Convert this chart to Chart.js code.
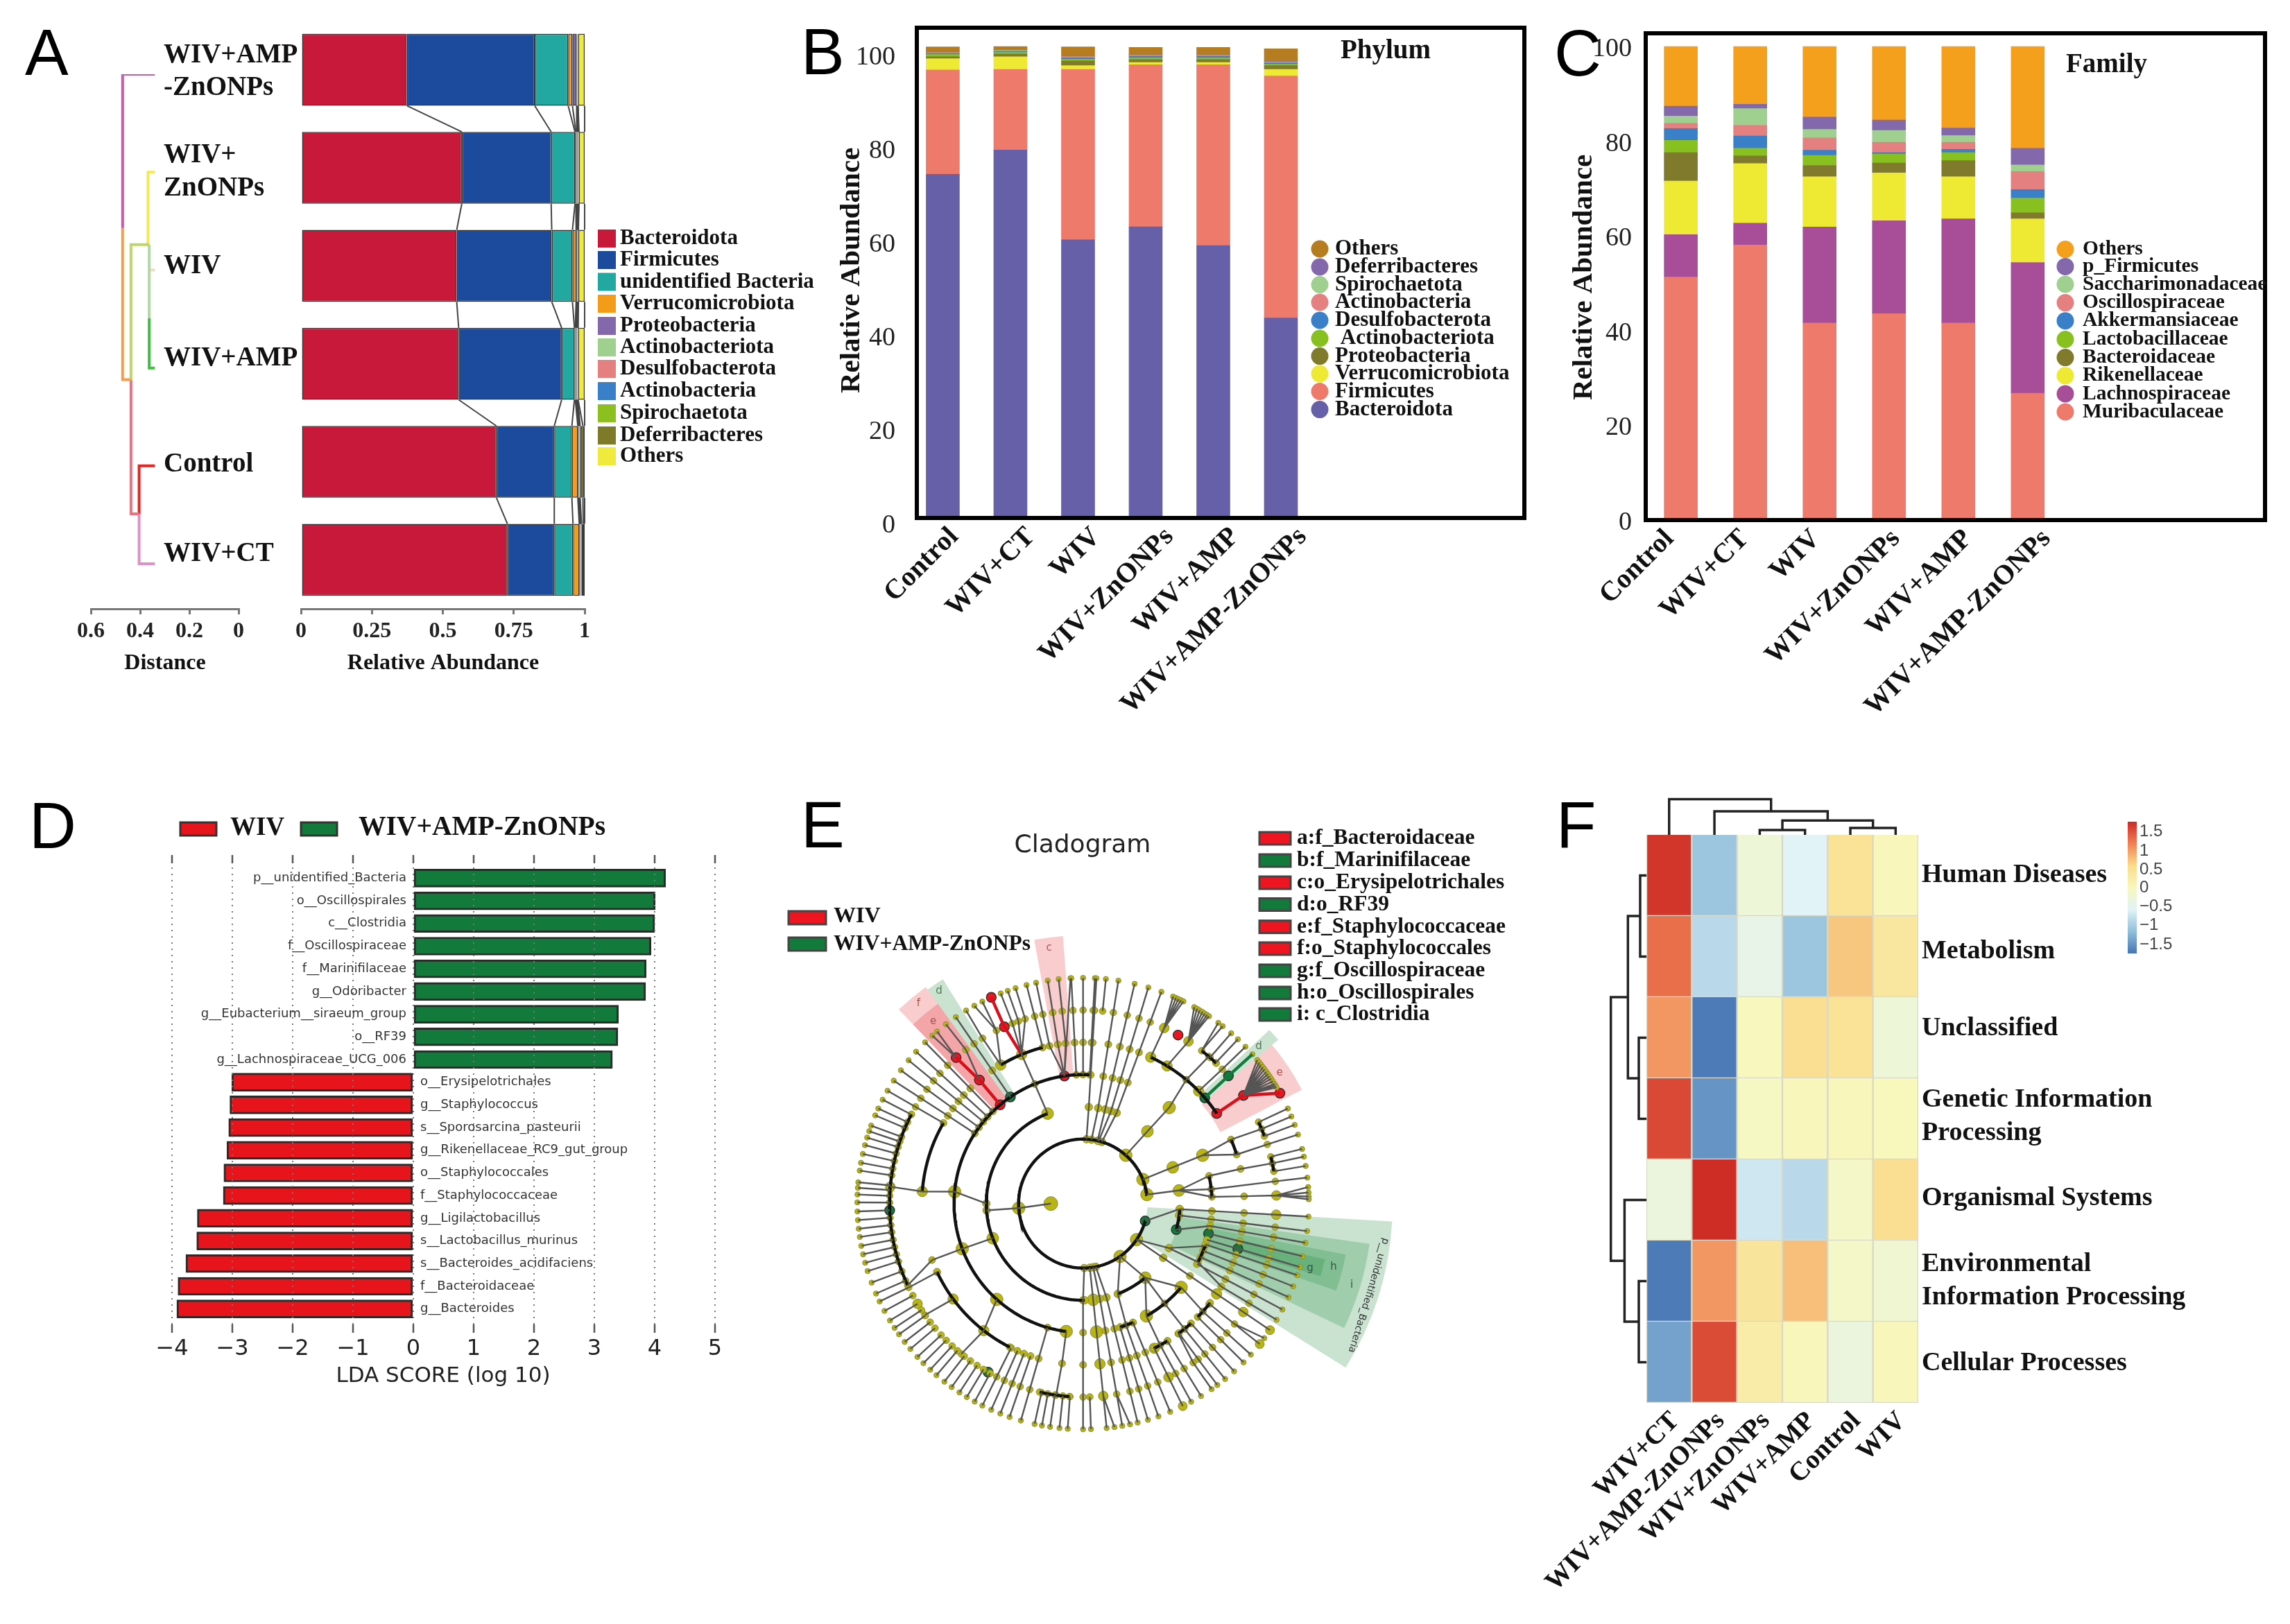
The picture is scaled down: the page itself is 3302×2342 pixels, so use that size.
<!DOCTYPE html>
<html>
<head>
<meta charset="utf-8">
<title>Gut microbiota panels</title>
<script src="https://cdn.jsdelivr.net/npm/chart.js@4/dist/chart.umd.js"></script>
<style>
  body { margin: 0; background: #fff; width: 3302px; height: 2342px; position: relative; overflow: hidden; }
  canvas { position: absolute; left: 0; top: 0; }
</style>
</head>
<body>
<script>
// ---- panel A: relative abundance by clustered group
const clusterRows = ['WIV+AMP-ZnONPs', 'WIV+ZnONPs', 'WIV', 'WIV+AMP', 'Control', 'WIV+CT'];
const phylaA = ['Bacteroidota', 'Firmicutes', 'unidentified Bacteria', 'Verrucomicrobiota', 'Proteobacteria', 'Actinobacteriota', 'Desulfobacterota', 'Actinobacteria', 'Spirochaetota', 'Deferribacteres', 'Others'];
const phylaAColors = ['#c8193a', '#1c4a9c', '#22a8a0', '#f39c1a', '#8468ac', '#a0d090', '#e58080', '#3a80c8', '#8cc020', '#7f7a2a', '#f0ea3c'];
const abundanceA = [
  [0.373, 0.567, 0.549, 0.556, 0.689, 0.728],
  [0.451, 0.315, 0.335, 0.363, 0.204, 0.165],
  [0.118, 0.084, 0.073, 0.045, 0.062, 0.066],
  [0.015, 0.003, 0.013, 0.003, 0.021, 0.022],
  [0.015, 0.003, 0.003, 0.003, 0.002, 0.002],
  [0.001, 0.002, 0.001, 0.002, 0.001, 0.001],
  [0.001, 0.003, 0.001, 0.002, 0.002, 0.002],
  [0.001, 0.001, 0.001, 0.001, 0.001, 0.001],
  [0.001, 0.001, 0.001, 0.001, 0.002, 0.002],
  [0.001, 0.001, 0.001, 0.001, 0.010, 0.006],
  [0.023, 0.020, 0.022, 0.023, 0.006, 0.005],
];
const abundanceATicks = [0, 0.25, 0.5, 0.75, 1];
const distanceTicks = [0.6, 0.4, 0.2, 0];
// dendrogram branches as [distance, row] paths with their colours
const distanceBranches = [
  ['#c85ab0', [[0.34, 0], [0.471, 0], [0.471, 1.57]]],
  ['#f0a050', [[0.471, 1.57], [0.471, 3.12], [0.437, 3.12]]],
  ['#bcd86a', [[0.437, 3.12], [0.437, 1.74], [0.363, 1.74]]],
  ['#f07080', [[0.437, 3.12], [0.437, 4.49], [0.404, 4.49]]],
  ['#f8e850', [[0.34, 1], [0.368, 1], [0.368, 1.74]]],
  ['#b0d8a0', [[0.363, 1.74], [0.363, 2.49]]],
  ['#40c040', [[0.363, 2.49], [0.363, 3], [0.34, 3]]],
  ['#f8d8c0', [[0.34, 2], [0.363, 2]]],
  ['#f02020', [[0.34, 4], [0.404, 4], [0.404, 4.49]]],
  ['#e090c8', [[0.404, 4.49], [0.404, 5], [0.34, 5]]],
];

// ---- panels B and C: stacked percentages
const groups = ['Control', 'WIV+CT', 'WIV', 'WIV+ZnONPs', 'WIV+AMP', 'WIV+AMP-ZnONPs'];
const percentTicks = [0, 20, 40, 60, 80, 100];
const phylaB = ['Bacteroidota', 'Firmicutes', 'Verrucomicrobiota', 'Proteobacteria', ' Actinobacteriota', 'Desulfobacterota', 'Actinobacteria', 'Spirochaetota', 'Deferribacteres', 'Others'];
const phylaBColors = ['#6660a8', '#ee7a6c', '#eeea34', '#807a2c', '#88c020', '#3a80c8', '#e58080', '#a0d090', '#8468ac', '#b57c20'];
const abundanceB = [
  [73.4, 78.6, 59.4, 62.2, 58.2, 42.7],
  [22.3, 17.2, 36.4, 34.6, 38.6, 51.7],
  [2.4, 2.7, 0.8, 0.5, 0.5, 1.4],
  [0.4, 0.6, 1.0, 0.6, 0.6, 0.8],
  [0.5, 0.4, 0.4, 0.4, 0.4, 0.3],
  [0.2, 0.2, 0.3, 0.3, 0.3, 0.3],
  [0.1, 0.1, 0.1, 0.1, 0.1, 0.1],
  [0.1, 0.1, 0.1, 0.1, 0.1, 0.1],
  [0.1, 0.1, 0.1, 0.1, 0.1, 0.1],
  [1.1, 0.7, 2.0, 1.6, 1.6, 2.7],
];
const familiesC = ['Muribaculaceae', 'Lachnospiraceae', 'Rikenellaceae', 'Bacteroidaceae', 'Lactobacillaceae', 'Akkermansiaceae', 'Oscillospiraceae', 'Saccharimonadaceae', 'p_Firmicutes', 'Others'];
const familiesCColors = ['#ee7a6c', '#a84e98', '#eeea34', '#807a2c', '#88c020', '#3a80c8', '#e58080', '#a0d090', '#8468ac', '#f5a01c'];
const abundanceC = [
  [51.3, 58.1, 41.6, 43.6, 41.6, 26.8],
  [9.0, 4.6, 20.3, 19.6, 22.0, 27.6],
  [11.3, 12.6, 10.6, 10.1, 8.9, 9.2],
  [6.0, 1.6, 2.4, 2.1, 3.4, 1.3],
  [2.6, 1.6, 2.1, 1.9, 1.7, 3.1],
  [2.5, 2.6, 1.1, 0.3, 0.7, 1.8],
  [1.1, 2.3, 2.6, 2.2, 1.5, 3.8],
  [1.5, 3.5, 1.8, 2.5, 1.4, 1.4],
  [2.1, 0.9, 2.6, 2.2, 1.6, 3.5],
  [12.6, 12.2, 14.9, 15.5, 17.2, 21.5],
];

// ---- panel D: LDA scores, top to bottom
const ldaTaxaGreen = ['p__unidentified_Bacteria', 'o__Oscillospirales', 'c__Clostridia', 'f__Oscillospiraceae', 'f__Marinifilaceae', 'g__Odoribacter', 'g__Eubacterium__siraeum_group', 'o__RF39', 'g__Lachnospiraceae_UCG_006'];
const ldaScoresGreen = [4.18, 4.01, 4.0, 3.94, 3.86, 3.85, 3.40, 3.39, 3.30];
const ldaTaxaRed = ['o__Erysipelotrichales', 'g__Staphylococcus', 's__Sporosarcina_pasteurii', 'g__Rikenellaceae_RC9_gut_group', 'o__Staphylococcales', 'f__Staphylococcaceae', 'g__Ligilactobacillus', 's__Lactobacillus_murinus', 's__Bacteroides_acidifaciens', 'f__Bacteroidaceae', 'g__Bacteroides'];
const ldaScoresRed = [-3.01, -3.04, -3.06, -3.09, -3.14, -3.15, -3.58, -3.59, -3.77, -3.90, -3.92];
const ldaTicks = [-4, -3, -2, -1, 0, 1, 2, 3, 4, 5];

// ---- panel E: cladogram, angle in degrees counter-clockwise from east, radius in levels
const cladeKey = ['a:f_Bacteroidaceae', 'b:f_Marinifilaceae', 'c:o_Erysipelotrichales', 'd:o_RF39', 'e:f_Staphylococcaceae', 'f:o_Staphylococcales', 'g:f_Oscillospiraceae', 'h:o_Oscillospirales', 'i: c_Clostridia'];
const cladeKeyIsRed = [true, false, true, false, true, true, false, false, false];
const cladeTipsFrom6 = [9.6, 12, 14, 6.6, 17.8, 20.4, 22.7, 24.9, 44, 46.7, 49, 107.4, 109.5, 111.4,
  152.6, 155.1, 157, 159.8, 161.3, 163, 165, 167.3, 169.6, 171.6, 174.6, 176, 177.7, 179.7, 182, 184.2, 186.4, 188.5, 190.8, 193, 195.2, 197.4,
  200.5, 203.5, 205.7, 208.4, 211.2, 213.4, 215.4, 217.8, 220.1, 222.8, 225, 227.4, 229.5, 232.1, 234.4, 236.8, 239, 241.3,
  257.6, 259.5, 261.6, 264, 266.1, 272, 304.7];
const cladeTipsFrom5 = [96.2, 99, 102, 104.5, 150, 243.5, 246, 248.5, 251, 296.2, 298.6, 301.5, 306.5, 309, 312, 315.3, 318, 321.5, 329];
const cladeTipsFrom4 = [87, 90, 93, 124.3, 134.4, 137.7, 140.6, 143.8, 147, 254, 286.7, 289.5, 292.7, 332, 335.5, 338.5, 341.5, 343.7, 346.5, 350];
const cladeTipsFrom3 = [69.7, 73.2, 76.8, 81, 86.6, 270, 276, 280, 284, 325.9, 353, 356.7];
// straight branches as [angle0, level0, angle1, level1]
const cladeLinks = [
  [180, 1, 184, 2], [184, 2, 184, 3], [201, 3, 200.5, 4], [200.5, 4, 200.5, 5], [200.5, 5, 205, 6],
  [180, 3, 174.7, 4], [174.7, 4, 175.7, 5], [175.7, 5, 175, 6],
  [111.5, 3, 112, 4], [112, 4, 112.4, 5], [112.4, 5, 111.4, 6], [112.4, 5, 109.5, 6], [112.4, 5, 107.4, 6],
  [120.7, 5, 121.3, 6], [121.3, 6, 121.2, 7], [120.7, 5, 116.6, 6], [116.6, 6, 116.5, 7], [116.6, 6, 118.8, 7],
  [131, 6, 130.3, 7], [131, 6, 131.9, 7], [130, 5, 127.3, 6], [127.3, 6, 127.4, 7],
  [98.3, 4, 93.2, 7], [98.3, 4, 96.2, 5], [98.3, 4, 99, 5], [98.3, 4, 102, 5], [84.2, 6, 84.2, 7],
  [228, 4, 232, 5], [232, 5, 231, 6], [216.3, 5, 215.2, 6], [205.2, 5, 205.7, 6],
  [262.5, 4, 262.5, 5], [262.5, 5, 262, 6],
  [271, 2, 270, 3], [276, 2, 276, 3], [279, 2, 280, 3], [281.4, 2, 284, 3], [276, 6, 278, 7], [280, 6, 282, 7],
  [305, 2, 310, 3], [305, 2, 291, 3], [291, 3, 289.5, 4], [310, 3, 309.2, 4], [310, 3, 319.5, 4], [310, 3, 299.4, 4],
  [299.4, 4, 298.6, 5], [309.2, 4, 309, 5], [306.2, 5, 304.7, 6], [319.5, 4, 318, 5], [321.5, 6, 323.4, 7],
  [326, 2, 325.9, 3], [326, 2, 332.6, 3], [332.6, 3, 333, 4], [333, 4, 329, 5], [332.6, 3, 340.8, 4],
  [344.3, 2, 356.7, 3], [344.4, 3, 350, 4],
  [8, 2, 7.8, 3], [7.8, 3, 6.4, 4], [6.4, 4, 6.6, 6], [7.8, 3, 12.4, 4], [12.4, 4, 12.4, 5], [12.4, 5, 12, 6],
  [3, 4, 2.6, 5], [2.6, 5, 2.4, 6], [7.8, 3, 3, 4], [2.4, 6, 4.2, 7], [2.4, 6, 2.8, 7], [2.4, 6, 1.8, 7], [2.4, 6, 1.1, 7],
  [22, 2, 22, 3], [22, 3, 22, 4], [22, 4, 23.4, 5], [22, 4, 17.7, 5], [23.4, 5, 22.7, 6], [17.7, 5, 17.8, 6],
  [48.5, 2, 48.3, 3], [48.3, 3, 48.1, 4], [48.1, 4, 50.2, 5],
  [65.2, 5, 65.2, 6], [58.6, 5, 57, 6], [50.2, 5, 49.5, 6], [52.2, 6, 53.2, 7], [52.2, 6, 51.8, 7], [44.2, 5, 44, 6],
  [65.2, 6, 66.5, 7], [65.2, 6, 65.7, 7], [65.2, 6, 65, 7], [65.2, 6, 64.3, 7], [65.2, 6, 63.6, 7],
  [57, 6, 60.5, 7], [57, 6, 59.7, 7], [57, 6, 58.9, 7], [57, 6, 58.1, 7], [57, 6, 57.4, 7], [57, 6, 56.7, 7], [57, 6, 56.1, 7],
  [34, 6, 39.5, 7], [34, 6, 38.7, 7], [34, 6, 38, 7], [34, 6, 37.2, 7], [34, 6, 36.5, 7], [34, 6, 35.7, 7], [34, 6, 35, 7],
  [34, 6, 34.3, 7], [34, 6, 33.6, 7], [34, 6, 32.8, 7], [34, 6, 32, 7], [34, 6, 31.5, 7], [34, 6, 31, 7],
  [73, 2, 69.7, 3], [76, 2, 73.2, 3], [77, 2, 76.8, 3], [82.5, 2, 81, 3], [87, 2, 86.6, 3],
];
const cladeRedLinks = [[112.4, 5, 114, 6], [114, 6, 114, 7], [130, 4, 130, 5], [130, 5, 131, 6], [34, 5, 34, 6], [34, 6, 29.3, 7]];
const cladeGreenLinks = [[41, 5, 41.3, 6], [41.3, 6, 41.4, 7]];
// thick arcs as [level, angle0, angle1]
const cladeArcs = [
  [2, 8, 344.3], [3, 111.5, 271], [4, 87, 262.5], [5, 104.5, 120.7], [5, 150, 175.7], [5, 205, 243], [6, 152.5, 205],
  [6, 257, 266], [3, 291, 310], [4, 286.6, 292.8], [4, 299.4, 319.5], [5, 296, 301.6], [5, 306.2, 312], [5, 315.3, 322],
  [4, 333, 340.8], [3, 344.4, 356.8], [4, 3, 12.4], [6, 9.6, 14], [5, 17.7, 23.4], [6, 20.4, 24.9], [5, 34, 65.2], [6, 46.5, 52.2],
];
const cladeBig = [[180, 1], [184, 2], [201, 3], [111.5, 3], [174.7, 4], [200.5, 4], [175.7, 5], [175, 6], [228, 4], [216.3, 5], [232, 5], [211.2, 6],
  [262.5, 4], [8, 2], [22, 2], [48.5, 2], [48.3, 3], [48.1, 4], [7.8, 3], [22, 3], [22, 4], [58.6, 5], [65.2, 5], [65.2, 6], [57, 6], [44.2, 5], [2.4, 6],
  [356.7, 6], [296.2, 5], [296.2, 6], [296.2, 7], [325.9, 5], [325.9, 6], [325.9, 7], [321.5, 7], [326, 2], [305, 2], [276, 3], [276, 4], [276, 5], [276, 6],
  [310, 3], [299.4, 4], [319.5, 4], [112.4, 5], [120.7, 5]];
const cladeRed = [[98.3, 4], [130, 4], [130, 5], [131, 6], [114, 6], [114, 7], [34, 5], [34, 6], [29.3, 7], [60.6, 6]];
const cladeGreen = [[124.3, 4], [41, 5], [41.3, 6], [344.3, 2], [344.4, 3], [346.5, 4], [343.7, 5], [182, 6], [240.6, 6]];
const cladeWedges = [
  [-32, -3.3, 2, 9.6, 'g'], [-25.5, -8, 3, 8.97, 'g'], [-19, -11, 4, 8.3, 'g'], [-17, -13, 5, 7.7, 'g'],
  [126, 133.5, 3.9, 8.3, 'r'], [126, 133.5, 4, 7.66, 'r'], [122, 126, 3.9, 8.2, 'g'], [94.3, 100.5, 4, 8.32, 'r'],
  [27.5, 40, 4.8, 7.65, 'r'], [40, 43, 4.9, 7.9, 'g'],
];

// ---- panel F: scaled pathway heatmap
const heatColumns = ['WIV+CT', 'WIV+AMP-ZnONPs', 'WIV+ZnONPs', 'WIV+AMP', 'Control', 'WIV'];
const heatRows = ['Human Diseases', 'Metabolism', 'Unclassified', 'Genetic Information Processing', 'Organismal Systems', 'Environmental Information Processing', 'Cellular Processes'];
const heatValues = [
  [1.62, -1.05, -0.25, -0.55, 0.45, 0.05],
  [1.25, -0.85, -0.4, -1.05, 0.7, 0.35],
  [1.0, -1.65, 0.0, 0.5, 0.45, -0.25],
  [1.5, -1.45, -0.05, 0.05, 0.05, 0.02],
  [-0.3, 1.68, -0.7, -0.85, -0.1, 0.5],
  [-1.65, 1.0, 0.4, 0.75, -0.1, -0.2],
  [-1.35, 1.48, 0.25, 0.05, -0.3, 0.05],
];
const heatScaleTicks = ['1.5', '1', '0.5', '0', '\u22120.5', '\u22121', '\u22121.5'];
// dendrograms in heatmap cell units: [column, row]
const heatBranches = [
  [[0.5, 0], [0.5, -0.44], [2.75, -0.44], [2.75, -0.29]],
  [[1.5, 0], [1.5, -0.29], [4, -0.29], [4, -0.177]],
  [[3, -0.06], [3, -0.177], [5, -0.177], [5, -0.085]],
  [[2.5, 0], [2.5, -0.06], [3.5, -0.06], [3.5, 0]],
  [[4.5, 0], [4.5, -0.085], [5.5, -0.085], [5.5, 0]],
  [[-0.41, 2], [-0.787, 2], [-0.787, 5.25], [-0.485, 5.25]],
  [[-0.14, 1], [-0.41, 1], [-0.41, 3], [-0.17, 3]],
  [[0, 0.5], [-0.14, 0.5], [-0.14, 1.5], [0, 1.5]],
  [[0, 2.5], [-0.17, 2.5], [-0.17, 3.5], [0, 3.5]],
  [[0, 4.5], [-0.485, 4.5], [-0.485, 6], [-0.17, 6]],
  [[0, 5.5], [-0.17, 5.5], [-0.17, 6.5], [0, 6.5]],
];

// ---- helpers
const W = 3302, H = 2342;
const X_ROOM = 300, Y_ROOM = 120;
const serifBold = px => `bold ${px}px "Liberation Serif"`;
const sans = px => `${px}px "DejaVu Sans"`;

// plot box in page pixels; the visible axes get a fixed strip outside it
function area(left, top, right, bottom, xAxisShown, yAxisShown) {
  return {
    left: left - (yAxisShown ? Y_ROOM : 0),
    top,
    right: W - right,
    bottom: H - bottom - (xAxisShown ? X_ROOM : 0),
  };
}

function fixedAxis(scale) {
  scale.paddingLeft = scale.paddingRight = scale.paddingTop = scale.paddingBottom = 0;
  const shown = scale.options.display !== false;
  if (scale.isHorizontal()) scale.height = shown ? X_ROOM : 0;
  else scale.width = shown ? Y_ROOM : 0;
}

function textLayer(items) {
  return {
    id: 'textLayer',
    afterDraw(chart) {
      const ctx = chart.ctx;
      for (const t of items(chart)) {
        ctx.save();
        ctx.translate(t.x, t.y);
        if (t.rot) ctx.rotate(t.rot * Math.PI / 180);
        ctx.font = t.font;
        ctx.fillStyle = t.color || '#111';
        ctx.textAlign = t.align || 'left';
        ctx.textBaseline = 'middle';
        ctx.fillText(t.text, 0, 0);
        ctx.restore();
      }
    },
  };
}

function frameLayer(lineWidth) {
  return {
    id: 'frameLayer',
    afterDraw(chart) {
      const { left, top, right, bottom } = chart.chartArea;
      chart.ctx.save();
      chart.ctx.lineWidth = lineWidth;
      chart.ctx.strokeStyle = '#000';
      chart.ctx.strokeRect(left, top, right - left, bottom - top);
      chart.ctx.restore();
    },
  };
}

function markerLayer(draw) {
  return { id: 'markerLayer', afterDraw: chart => draw(chart, chart.ctx) };
}

function makeChart(config) {
  const canvas = document.createElement('canvas');
  canvas.width = W;
  canvas.height = H;
  canvas.style.width = W + 'px';
  canvas.style.height = H + 'px';
  document.body.appendChild(canvas);
  config.options = Object.assign({
    responsive: false,
    animation: false,
    devicePixelRatio: 1,
    events: [],
  }, config.options);
  config.options.plugins = Object.assign({ legend: { display: false }, tooltip: { enabled: false } }, config.options.plugins);
  return new Chart(canvas, config);
}

function stepTicks(values) {
  return scale => { scale.ticks = values.map(value => ({ value })); };
}

function legendDots(names, colors, rows, dotX, textX, font, radius) {
  return markerLayer((chart, ctx) => {
    names.forEach((name, i) => {
      const y = rows[rows.length - 1 - i];
      ctx.beginPath();
      ctx.arc(dotX, y, radius, 0, Math.PI * 2);
      ctx.fillStyle = colors[i];
      ctx.fill();
      ctx.fillStyle = '#111';
      ctx.font = font;
      ctx.textBaseline = 'middle';
      ctx.textAlign = 'left';
      ctx.fillText(name, textX, y);
    });
  });
}

// ---- panel A dendrogram
makeChart({
  type: 'scatter',
  data: {
    datasets: distanceBranches.map(([color, path]) => ({
      data: path.map(([x, y]) => ({ x, y })),
      showLine: true, borderColor: color, borderWidth: 4, pointRadius: 0, tension: 0,
    })),
  },
  options: {
    layout: { padding: area(131, 107, 344, 878, true, false) },
    scales: {
      x: {
        type: 'linear', reverse: true, min: 0, max: 0.6, afterFit: fixedAxis, afterBuildTicks: stepTicks(distanceTicks),
        grid: { drawOnChartArea: false, color: '#777', lineWidth: 3, tickLength: 8 },
        border: { color: '#777', width: 3 },
        ticks: { font: { family: 'Liberation Serif', weight: 'bold', size: 32 }, color: '#222', padding: 6, maxRotation: 0, callback: v => String(v) },
      },
      y: { type: 'linear', reverse: true, min: 0, max: 5.46, display: false, afterFit: fixedAxis },
    },
  },
  plugins: [textLayer(() => [
    { text: 'Distance', x: 238, y: 957, font: serifBold(32), align: 'center' },
  ])],
});

// ---- panel A bars
const legendARows = [344, 375, 406.5, 438, 470, 501, 532, 564, 596, 628, 658];
makeChart({
  type: 'bar',
  data: {
    labels: clusterRows,
    datasets: phylaA.map((name, i) => ({
      label: name, data: abundanceA[i], backgroundColor: phylaAColors[i], borderColor: '#333', borderWidth: 1.5,
      categoryPercentage: 1, barPercentage: 0.733, borderSkipped: false,
    })),
  },
  options: {
    indexAxis: 'y',
    layout: { padding: area(434, 30, 843, 878, true, false) },
    scales: {
      x: {
        type: 'linear', stacked: true, min: 0, max: 1, afterFit: fixedAxis, afterBuildTicks: stepTicks(abundanceATicks),
        grid: { drawOnChartArea: false, color: '#777', lineWidth: 3, tickLength: 8 },
        border: { color: '#777', width: 3 },
        ticks: { font: { family: 'Liberation Serif', weight: 'bold', size: 32 }, color: '#222', padding: 6, maxRotation: 0, callback: v => String(v) },
      },
      y: { stacked: true, display: false, afterFit: fixedAxis },
    },
  },
  plugins: [
    markerLayer((chart, ctx) => {
      // ribbons linking each stack boundary between neighbouring rows
      ctx.save();
      ctx.strokeStyle = '#444';
      ctx.lineWidth = 2;
      chart.data.datasets.forEach((ds, i) => {
        const bars = chart.getDatasetMeta(i).data;
        for (let r = 0; r + 1 < bars.length; r++) {
          ctx.beginPath();
          ctx.moveTo(bars[r].x, bars[r].y + bars[r].height / 2);
          ctx.lineTo(bars[r + 1].x, bars[r + 1].y - bars[r + 1].height / 2);
          ctx.stroke();
        }
      });
      phylaA.forEach((name, i) => {
        ctx.fillStyle = phylaAColors[i];
        ctx.fillRect(862, legendARows[i] - 13, 26, 26);
      });
      ctx.restore();
    }),
    textLayer(() => {
      const out = phylaA.map((name, i) => ({ text: name, x: 894, y: legendARows[i], font: serifBold(31) }));
      const f = serifBold(39);
      out.push(
        { text: 'WIV+AMP', x: 236, y: 80, font: f }, { text: '-ZnONPs', x: 236, y: 127, font: f },
        { text: 'WIV+', x: 236, y: 224, font: f }, { text: 'ZnONPs', x: 236, y: 272, font: f },
        { text: clusterRows[2], x: 236, y: 384, font: f }, { text: clusterRows[3], x: 236, y: 517, font: f },
        { text: clusterRows[4], x: 236, y: 670, font: f }, { text: clusterRows[5], x: 236, y: 799, font: f },
        { text: 'Relative Abundance', x: 639, y: 957, font: serifBold(32), align: 'center' },
      );
      return out;
    }),
  ],
});

// ---- panels B and C share one shape
function stackedPanel(opts) {
  makeChart({
    type: 'bar',
    data: {
      datasets: opts.names.map((name, i) => ({
        label: name,
        data: opts.values[i].map((y, x) => ({ x, y })),
        backgroundColor: opts.colors[i],
        barThickness: 48,
      })),
    },
    options: {
      layout: { padding: area(...opts.box, true, true) },
      scales: {
        x: {
          type: 'linear', stacked: true, offset: false, min: opts.xRange[0], max: opts.xRange[1],
          afterFit: fixedAxis, afterBuildTicks: stepTicks(opts.labelAt),
          grid: { display: false }, border: { display: false },
          ticks: {
            autoSkip: false, minRotation: 45, maxRotation: 45, padding: opts.xPad, color: '#111',
            font: { family: 'Liberation Serif', weight: 'bold', size: 40 },
            callback: (v, i) => groups[i],
          },
        },
        y: {
          type: 'linear', stacked: true, min: 0, max: opts.yMax, afterFit: fixedAxis, afterBuildTicks: stepTicks(percentTicks),
          grid: { display: false }, border: { display: false },
          ticks: {
            padding: opts.yPad, labelOffset: opts.yShift, color: '#222',
            font: { family: 'Liberation Serif', size: 38 }, callback: v => String(v),
          },
        },
      },
    },
    plugins: [
      frameLayer(6),
      legendDots(opts.names, opts.colors, opts.legendRows, opts.dotX, opts.textX, serifBold(opts.legendFont), 12.5),
      textLayer(() => [
        { text: opts.title, x: opts.titleX, y: opts.titleY, font: serifBold(39) },
        { text: 'Relative Abundance', x: opts.yTitleX, y: opts.yTitleY, font: serifBold(41), align: 'center', rot: -90 },
      ]),
    ],
  });
}

stackedPanel({
  names: phylaB, colors: phylaBColors, values: abundanceB,
  box: [1322, 40, 2198, 747], xRange: [-0.384, 8.6], yMax: 104.7,
  labelAt: [0.17, 1.3, 2.27, 3.35, 4.32, 5.32], xPad: -4, yPad: 23, yShift: 11,
  legendRows: [359, 385, 410.5, 436, 462, 488, 513.6, 539, 564.5, 590.6],
  dotX: 1903, textX: 1925, legendFont: 31,
  title: 'Phylum', titleX: 1933, titleY: 74, yTitleX: 1228, yTitleY: 390,
});

stackedPanel({
  names: familiesC, colors: familiesCColors, values: abundanceC,
  box: [2373, 48, 3266, 750], xRange: [-0.506, 8.42], yMax: 102.8,
  labelAt: [-0.16, 0.92, 1.95, 3.1, 4.14, 5.27], xPad: -4, yPad: 12, yShift: 4,
  legendRows: [359.6, 384.4, 410, 436.6, 462.7, 489.5, 515.6, 541.8, 567.9, 594],
  dotX: 2978, textX: 3003, legendFont: 29.5,
  title: 'Family', titleX: 2979, titleY: 94, yTitleX: 2284, yTitleY: 400,
});

// ---- panel D
const ldaGreenPoints = ldaScoresGreen.map((x, y) => ({ x, y }));
const ldaRedPoints = ldaScoresRed.map((x, i) => ({ x, y: i + ldaScoresGreen.length }));
makeChart({
  type: 'bar',
  data: {
    datasets: [
      { label: 'WIV+AMP-ZnONPs', data: ldaGreenPoints, backgroundColor: '#127a3a', borderColor: '#2a2a2a', borderWidth: 3, barThickness: 26, grouped: false, borderSkipped: false },
      { label: 'WIV', data: ldaRedPoints, backgroundColor: '#e8141c', borderColor: '#2a2a2a', borderWidth: 3, barThickness: 26, grouped: false, borderSkipped: false },
    ],
  },
  options: {
    indexAxis: 'y',
    layout: { padding: area(248, 1233, 1031, 1922, true, false) },
    scales: {
      x: {
        type: 'linear', min: -4, max: 5, afterFit: fixedAxis, afterBuildTicks: stepTicks(ldaTicks),
        grid: { color: '#777', lineWidth: 2, drawTicks: false, z: 1 },
        border: { display: false, dash: [2, 7] },
        ticks: { padding: 4, maxRotation: 0, color: '#222', font: { family: 'DejaVu Sans', size: 32 }, callback: v => String(v).replace('-', '\u2212') },
      },
      y: { type: 'linear', reverse: true, min: -1.02, max: 20.05, offset: false, display: false, afterFit: fixedAxis },
    },
  },
  plugins: [
    markerLayer((chart, ctx) => {
      const { top, bottom } = chart.chartArea;
      ctx.save();
      ctx.strokeStyle = '#555';
      ctx.lineWidth = 2.5;
      ldaTicks.forEach(v => {
        const px = chart.scales.x.getPixelForValue(v);
        ctx.beginPath();
        ctx.moveTo(px, top); ctx.lineTo(px, top + 12);
        ctx.moveTo(px, bottom - 12); ctx.lineTo(px, bottom);
        ctx.stroke();
      });
      ctx.fillStyle = '#e8141c'; ctx.strokeStyle = '#333'; ctx.lineWidth = 3;
      ctx.fillRect(260, 1186, 52, 19); ctx.strokeRect(260, 1186, 52, 19);
      ctx.fillStyle = '#127a3a';
      ctx.fillRect(434, 1186, 52, 19); ctx.strokeRect(434, 1186, 52, 19);
      ctx.restore();
    }),
    textLayer(chart => {
      const y = chart.scales.y, x0 = chart.scales.x.getPixelForValue(0);
      const out = [];
      ldaTaxaGreen.forEach((text, i) => out.push({ text, x: x0 - 10, y: y.getPixelForValue(i), font: sans(18), color: '#333', align: 'right' }));
      ldaTaxaRed.forEach((text, i) => out.push({ text, x: x0 + 10, y: y.getPixelForValue(i + ldaTaxaGreen.length), font: sans(18), color: '#333' }));
      out.push(
        { text: 'WIV', x: 332, y: 1194, font: serifBold(37) },
        { text: 'WIV+AMP-ZnONPs', x: 517, y: 1194, font: serifBold(39.5) },
        { text: 'LDA SCORE (log 10)', x: 639, y: 1985, font: sans(31), color: '#222', align: 'center' },
      );
      return out;
    }),
  ],
});

// ---- panel E
function polar(angle, level) {
  const t = angle * Math.PI / 180;
  return { x: level * Math.cos(t), y: level * Math.sin(t) };
}
const gap = { x: NaN, y: NaN };
const nodeMap = new Map();
function addNode(a, r) { nodeMap.set(a + '|' + r, [a, r]); }
function linkPath(links) {
  const pts = [];
  links.forEach(([a0, r0, a1, r1]) => {
    pts.push(polar(a0, r0), polar(a1, r1), gap);
    addNode(a0, r0); addNode(a1, r1);
  });
  return pts;
}
function chainLinks(angles, from) {
  const out = [];
  angles.forEach(a => { for (let r = from; r < 7; r++) out.push([a, r, a, r + 1]); });
  return out;
}
const allLinks = cladeLinks
  .concat(chainLinks(cladeTipsFrom6, 6), chainLinks(cladeTipsFrom5, 5), chainLinks(cladeTipsFrom4, 4), chainLinks(cladeTipsFrom3, 3));
const thinPath = linkPath(allLinks);
const redPath = linkPath(cladeRedLinks);
const greenPath = linkPath(cladeGreenLinks);
const arcPath = [];
cladeArcs.forEach(([r, a0, a1]) => {
  addNode(a0, r); addNode(a1, r);
  for (let a = a0; a < a1; a += 1.5) arcPath.push(polar(a, r));
  arcPath.push(polar(a1, r), gap);
});
const defaultNode = { 1: 10, 2: 5.5, 3: 5.5, 4: 5, 5: 5, 6: 4.8, 7: 3.8 };
const bigNode = { 1: 10, 2: 9, 3: 8.5, 4: 9, 5: 7.5, 6: 7, 7: 6.5 };
const bigKeys = new Set(cladeBig.map(([a, r]) => a + '|' + r));
const plainNodes = [...nodeMap.values()].filter(([a, r]) =>
  !cladeRed.concat(cladeGreen).some(n => n[0] === a && n[1] === r));

makeChart({
  type: 'scatter',
  data: {
    datasets: [
      { data: thinPath, showLine: true, borderColor: '#555', borderWidth: 2.4, pointRadius: 0, tension: 0 },
      { data: arcPath, showLine: true, borderColor: '#111', borderWidth: 4.5, pointRadius: 0, tension: 0 },
      { data: redPath, showLine: true, borderColor: '#d8101c', borderWidth: 4.5, pointRadius: 0, tension: 0 },
      { data: greenPath, showLine: true, borderColor: '#127a3a', borderWidth: 4.5, pointRadius: 0, tension: 0 },
      {
        data: plainNodes.map(([a, r]) => polar(a, r)),
        backgroundColor: '#b8b412', borderColor: '#8a8a40', borderWidth: 1,
        pointRadius: plainNodes.map(([a, r]) => (bigKeys.has(a + '|' + r) ? bigNode[r] : defaultNode[r])),
      },
      {
        data: cladeRed.map(([a, r]) => polar(a, r)),
        backgroundColor: '#ee1420', borderColor: '#333', borderWidth: 1.5, pointRadius: 7,
      },
      {
        data: cladeGreen.map(([a, r]) => polar(a, r)),
        backgroundColor: '#127a3a', borderColor: '#333', borderWidth: 1.5, pointRadius: 7,
      },
    ],
  },
  options: {
    layout: { padding: area(1208.3, 1335.8, 2017.4, 2079.8, false, false) },
    scales: {
      x: { type: 'linear', min: -7.6, max: 9.8, display: false, afterFit: fixedAxis },
      y: { type: 'linear', min: -7.4, max: 8.6, display: false, afterFit: fixedAxis },
    },
  },
  plugins: [
    {
      id: 'wedges',
      beforeDatasetsDraw(chart) {
        const ctx = chart.ctx, sx = chart.scales.x, sy = chart.scales.y;
        const cx = sx.getPixelForValue(0), cy = sy.getPixelForValue(0);
        const unit = sx.getPixelForValue(1) - cx;
        cladeWedges.forEach(([a0, a1, r0, r1, kind]) => {
          const t0 = -a0 * Math.PI / 180, t1 = -a1 * Math.PI / 180;
          ctx.beginPath();
          ctx.arc(cx, cy, r1 * unit, t0, t1, true);
          ctx.arc(cx, cy, r0 * unit, t1, t0, false);
          ctx.closePath();
          ctx.fillStyle = kind === 'r' ? 'rgba(232,40,48,0.24)' : 'rgba(30,140,60,0.24)';
          ctx.fill();
        });
      },
    },
    markerLayer((chart, ctx) => {
      ctx.save();
      ctx.strokeStyle = '#444';
      ctx.lineWidth = 3;
      const rect = (x, y, w, h, color) => { ctx.fillStyle = color; ctx.fillRect(x, y, w, h); ctx.strokeRect(x, y, w, h); };
      rect(1137, 1314, 54, 19, '#ee1420');
      rect(1137, 1352, 54, 19, '#127a3a');
      const rows = [1209, 1241, 1273, 1304.5, 1336.6, 1368, 1400, 1432, 1463];
      rows.forEach((y, i) => rect(1816, y - 9, 45, 18, cladeKeyIsRed[i] ? '#ee1420' : '#127a3a'));
      ctx.restore();
    }),
    textLayer(() => {
      const rows = [1209, 1241, 1273, 1304.5, 1336.6, 1368, 1400, 1432, 1463];
      const out = cladeKey.map((text, i) => ({ text, x: 1870, y: rows[i], font: serifBold(31.5) }));
      const small = (text, x, y, color) => ({ text, x, y, font: sans(15), color, align: 'center' });
      out.push(
        { text: 'Cladogram', x: 1561, y: 1220, font: sans(36), color: '#222', align: 'center' },
        { text: 'WIV', x: 1202, y: 1321.5, font: serifBold(32) },
        { text: 'WIV+AMP-ZnONPs', x: 1202, y: 1362, font: serifBold(31.5) },
        small('c', 1512.5, 1367, '#a55'), small('f', 1324.5, 1447, '#a55'), small('e', 1345.5, 1473, '#a55'), small('d', 1354, 1429, '#575'),
        small('e', 1845, 1547, '#a55'), small('d', 1815, 1509, '#575'),
        small('g', 1889, 1829, '#354'), small('h', 1923, 1827, '#354'), small('i', 1949, 1853, '#354'),
        { text: 'p__unidentified_Bacteria', x: 1973, y: 1868, font: sans(14), color: '#333', align: 'center', rot: 107 },
      );
      return out;
    }),
  ],
});

// ---- panel F
const heatStops = [[-1.7, [69, 117, 180]], [-1.13, [145, 191, 219]], [-0.57, [224, 243, 248]], [0, [248, 248, 190]], [0.57, [250, 220, 140]], [1.13, [240, 130, 85]], [1.7, [205, 42, 36]]];
function heatColor(z) {
  for (let i = 1; i < heatStops.length; i++) {
    if (z <= heatStops[i][0]) {
      const [z0, c0] = heatStops[i - 1], [z1, c1] = heatStops[i];
      const t = (z - z0) / (z1 - z0);
      return `rgb(${c0.map((c, k) => Math.round(c + (c1[k] - c) * t)).join(',')})`;
    }
  }
  return 'rgb(205,42,36)';
}

makeChart({
  type: 'bar',
  data: {
    labels: heatColumns,
    datasets: heatRows.map((name, r) => ({
      label: name,
      data: heatColumns.map(() => 1),
      backgroundColor: heatValues[r].map(heatColor),
      borderColor: '#d8d8c8',
      borderWidth: 1.5,
      categoryPercentage: 1,
      barPercentage: 1,
    })),
  },
  options: {
    layout: { padding: area(2374, 1204, 2766, 2023, true, false) },
    scales: {
      x: {
        stacked: true, afterFit: fixedAxis,
        grid: { display: false }, border: { display: false },
        ticks: {
          autoSkip: false, minRotation: 45, maxRotation: 45, padding: -4, labelOffset: 9, color: '#111',
          font: { family: 'Liberation Serif', weight: 'bold', size: 38.5 },
        },
      },
      y: { type: 'linear', stacked: true, reverse: true, min: 0, max: 7, display: false, afterFit: fixedAxis },
    },
  },
  plugins: [
    markerLayer((chart, ctx) => {
      const grad = ctx.createLinearGradient(0, 1185, 0, 1375);
      heatStops.forEach(([z], i) => grad.addColorStop(1 - i / (heatStops.length - 1), heatColor(z)));
      ctx.fillStyle = grad;
      ctx.fillRect(3068, 1185, 13, 190);
    }),
    textLayer(() => {
      const f = serifBold(38);
      const out = [
        { text: heatRows[0], x: 2771, y: 1262, font: f }, { text: heatRows[1], x: 2771, y: 1372, font: f },
        { text: heatRows[2], x: 2771, y: 1483, font: f },
        { text: 'Genetic Information', x: 2771, y: 1586, font: f }, { text: 'Processing', x: 2771, y: 1634, font: f },
        { text: heatRows[4], x: 2771, y: 1728, font: f },
        { text: 'Environmental', x: 2771, y: 1823, font: f }, { text: 'Information Processing', x: 2771, y: 1871, font: f },
        { text: heatRows[6], x: 2771, y: 1966, font: f },
      ];
      const rows = [1199, 1227, 1254, 1280, 1307.5, 1334, 1362];
      heatScaleTicks.forEach((text, i) => out.push({ text, x: 3085, y: rows[i], font: '24px "Liberation Sans"', color: '#444' }));
      return out;
    }),
  ],
});

// heatmap dendrograms and the panel letters
makeChart({
  type: 'scatter',
  data: {
    datasets: heatBranches.map(path => ({
      data: path.map(([x, y]) => ({ x, y })),
      showLine: true, borderColor: '#222', borderWidth: 3.5, pointRadius: 0, tension: 0,
    })),
  },
  options: {
    layout: { padding: area(2308.8, 1145.5, 2766, 2023, false, false) },
    scales: {
      x: { type: 'linear', min: -1, max: 6, display: false, afterFit: fixedAxis },
      y: { type: 'linear', reverse: true, min: -0.5, max: 7, display: false, afterFit: fixedAxis },
    },
  },
  plugins: [textLayer(() => [
    { text: 'A', x: 36, y: 82, font: '94px "Liberation Sans"', color: '#000' },
    { text: 'B', x: 1155, y: 81, font: '94px "Liberation Sans"', color: '#000' },
    { text: 'C', x: 2241, y: 83, font: '94px "Liberation Sans"', color: '#000' },
    { text: 'D', x: 42, y: 1197, font: '94px "Liberation Sans"', color: '#000' },
    { text: 'E', x: 1155, y: 1196, font: '94px "Liberation Sans"', color: '#000' },
    { text: 'F', x: 2244, y: 1196, font: '94px "Liberation Sans"', color: '#000' },
  ])],
});
</script>
</body>
</html>
